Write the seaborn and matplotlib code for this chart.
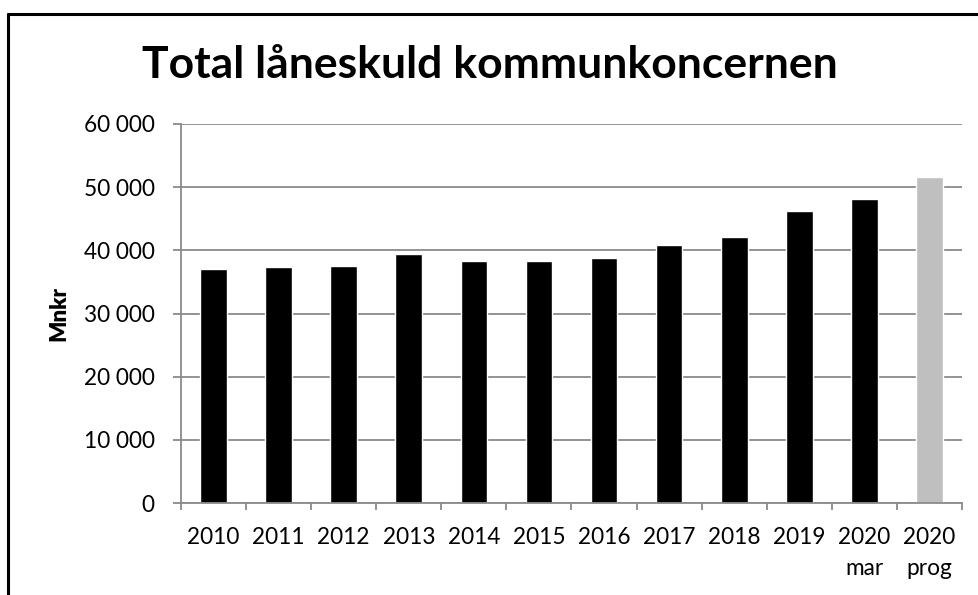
import matplotlib
matplotlib.use("Agg")
import matplotlib.pyplot as plt
import seaborn as sns
import pandas as pd
from matplotlib.ticker import FuncFormatter, FixedLocator
from matplotlib.lines import Line2D

categories = ["2010", "2011", "2012", "2013", "2014", "2015", "2016",
              "2017", "2018", "2019", "2020\nmar", "2020\nprog"]
values = [37000, 37350, 37500, 39400, 38250, 38350, 38800,
          40900, 42050, 46200, 48200, 51650]
bar_colors = ["#000000"] * 11 + ["#bfbfbf"]
title = "Total låneskuld kommunkoncernen"
ylabel = "Mnkr"

sns.set_theme(style="white")
plt.rcParams["font.family"] = ["Lato", "DejaVu Sans"]
plt.rcParams["text.color"] = "black"
plt.rcParams["axes.labelcolor"] = "black"

df = pd.DataFrame({"cat": categories, "val": values})

fig = plt.figure(figsize=(9.79, 5.95), dpi=100)
ax = fig.add_axes([181 / 979, 1 - 503 / 595, (962 - 181) / 979, (503 - 124) / 595])

sns.barplot(data=df, x="cat", y="val", hue="cat", palette=bar_colors,
            legend=False, width=0.41, ax=ax, saturation=1)

ax.set_xlim(-0.5, len(categories) - 0.5)
ax.set_ylim(0, 60000)
ax.set_yticks(range(0, 60001, 10000))
ax.yaxis.set_major_formatter(FuncFormatter(lambda v, p: f"{v:,.0f}".replace(",", " ")))
ax.yaxis.grid(True, color="#8a8a8a", linewidth=1.3)
ax.set_axisbelow(True)

for s in ["top", "right"]:
    ax.spines[s].set_visible(False)
for s in ["left", "bottom"]:
    ax.spines[s].set_color("#8a8a8a")
    ax.spines[s].set_linewidth(1.3)

ax.tick_params(axis="y", which="major", length=6, width=1.3, color="#8a8a8a",
               direction="out", labelsize=16.3, labelcolor="black", pad=13, left=True)
ax.tick_params(axis="x", which="major", length=0, labelsize=16.3, labelcolor="black", pad=17)
ax.xaxis.set_minor_locator(FixedLocator([i - 0.5 for i in range(len(categories) + 1)]))
ax.tick_params(axis="x", which="minor", length=5, width=1.3, color="#8a8a8a",
               direction="out", bottom=True)
for lbl in ax.get_xticklabels():
    lbl.set_linespacing(1.6)

ax.set_xlabel("")
ax.set_ylabel(ylabel, fontsize=16, fontweight="heavy", labelpad=10, color="black")

fig.text(0.5, 1 - 78 / 595, title, ha="center", va="baseline",
         fontsize=32, fontweight="bold", color="black")

# outer chart frame (top and left edges visible)
fig.add_artist(Line2D([8.5 / 979, 1], [1 - 13.5 / 595, 1 - 13.5 / 595],
                      transform=fig.transFigure, color="black", linewidth=2.2))
fig.add_artist(Line2D([8.5 / 979, 8.5 / 979], [0, 1 - 13.5 / 595],
                      transform=fig.transFigure, color="black", linewidth=2.2))

fig.savefig("out.png", dpi=100)
